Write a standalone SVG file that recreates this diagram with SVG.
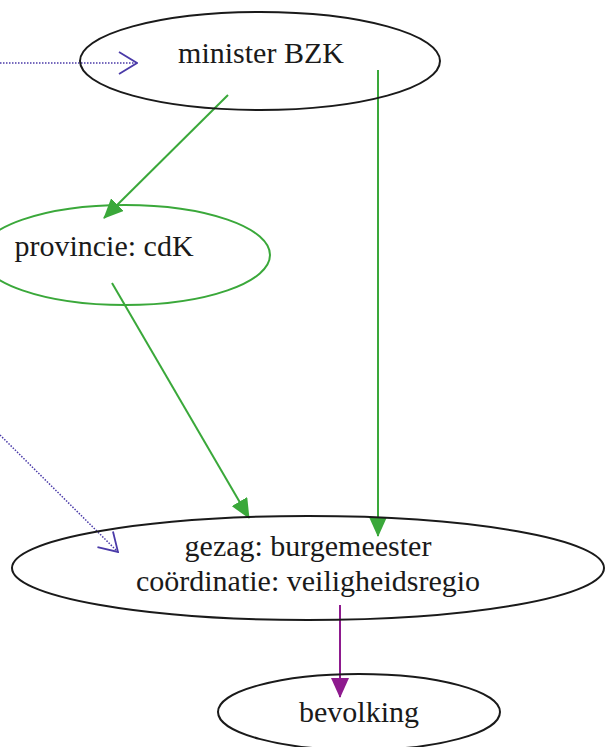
<svg xmlns="http://www.w3.org/2000/svg" width="607" height="747" viewBox="0 0 607 747">
<defs>
<style>
.node{fill:none;stroke:#1a1a1a;stroke-width:2}
.green{stroke:#3aa83a}
.lbl{font-family:"Liberation Serif","Times New Roman",serif;font-size:30px;fill:#1a1a1a;text-anchor:middle}
.eg{stroke:#3aa83a;stroke-width:2;fill:none}
.eb{stroke:#4a3aa8;stroke-width:1.5;stroke-dasharray:1.5 1.5;fill:none}
.ep{stroke:#8e1a8e;stroke-width:2;fill:none}
</style>
<marker id="ag" viewBox="0 0 20 18" refX="19" refY="9" markerWidth="20" markerHeight="18" markerUnits="userSpaceOnUse" orient="auto"><path d="M0,0L20,9L0,18z" fill="#3aa83a"/></marker>
<marker id="ap" viewBox="0 0 20 18" refX="19" refY="9" markerWidth="20" markerHeight="18" markerUnits="userSpaceOnUse" orient="auto"><path d="M0,0L20,9L0,18z" fill="#8e1a8e"/></marker>
<marker id="ab" viewBox="-1 -1 20 24" refX="18" refY="11" markerWidth="20" markerHeight="24" markerUnits="userSpaceOnUse" orient="auto"><path d="M0,0L18,11L0,22" fill="none" stroke="#4a3aa8" stroke-width="1.8"/></marker>
</defs>
<g id="connectors">
<path class="eb" d="M0,63L137,63" marker-end="url(#ab)"/>
<path class="eg" d="M228,95L104,218" marker-end="url(#ag)"/>
<path class="eg" d="M378,70L378,536" marker-end="url(#ag)"/>
<path class="eg" d="M112,283L249,518" marker-end="url(#ag)"/>
<path class="eb" d="M0,435L118,552" marker-end="url(#ab)"/>
<path class="ep" d="M340,605L340,697" marker-end="url(#ap)"/>
</g>
<g id="minister">
<ellipse class="node" cx="260" cy="61" rx="180" ry="49"/>
<text class="lbl" x="261" y="63">minister BZK</text>
</g>
<g id="provincie">
<ellipse class="node green" cx="125" cy="255" rx="145" ry="50"/>
<text class="lbl" x="104" y="256">provincie: cdK</text>
</g>
<g id="gezag">
<ellipse class="node" cx="308" cy="568" rx="296" ry="52"/>
<text class="lbl" x="308" y="556">gezag: burgemeester</text>
<text class="lbl" x="308" y="591">coördinatie: veiligheidsregio</text>
</g>
<g id="bevolking">
<ellipse class="node" cx="359" cy="712" rx="141" ry="38"/>
<text class="lbl" x="359" y="722">bevolking</text>
</g>
</svg>
